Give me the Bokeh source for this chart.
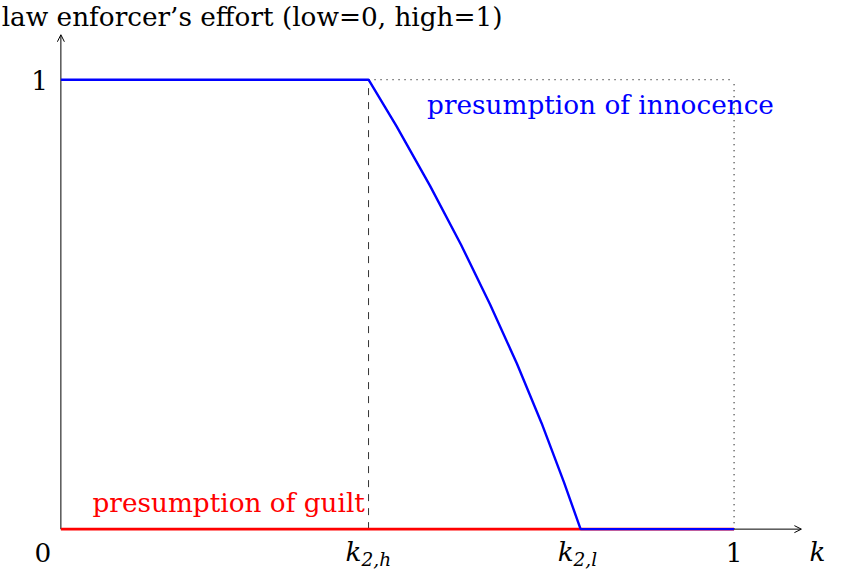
from bokeh.plotting import figure
from bokeh.models import Range1d, Arrow, OpenHead
from bokeh.core.properties import value
from bokeh.embed import file_html
from bokeh.resources import INLINE

# ---- data ----
k2h = 0.457
k2l = 0.772
# presumption of innocence: effort as a function of k
innocence_k = [0.0, k2h, 0.4985, 0.5482, 0.5946, 0.6376, 0.6775, 0.7141, 0.7475, k2l, 1.0]
innocence_e = [1.0, 1.0, 0.8965, 0.7643, 0.6322, 0.5, 0.3678, 0.2357, 0.1035, 0.0, 0.0]
# presumption of guilt: effort always low
guilt_k = [0.0, 1.0]
guilt_e = [0.0, 0.0]
x_tick_values = [0.0, 1.0]
x_tick_labels = ["0", "1"]
k_tick_values = [k2h, k2l]
k_tick_subs = ["2,h", "2,l"]
y_tick_values = [1.0]
y_tick_labels = ["1"]
axis_end = 1.1

FONT = "DejaVu Serif"
FS = "26.3px"
SUB_FS = "18.5px"
BL = -10   # baseline correction (px) for the main font
BLS = -7   # baseline correction (px) for subscripts

W, H = 832, 572
p = figure(width=W, height=H, output_backend="svg", toolbar_location=None,
           x_range=Range1d(-0.0897, 1.1462), y_range=Range1d(-0.0965, 1.1762),
           x_axis_location=None, y_axis_location=None, min_border=0)
p.grid.visible = False
p.outline_line_color = None
p.background_fill_color = "white"
p.border_fill_color = "white"

# guide lines
p.line([k2h, k2h], [0, 1], line_color="#333333", line_width=1, line_dash="7 7")
p.line([k2h, 1.0], [1, 1], line_color="#222222", line_width=1.3, line_dash="1 5")
p.line([1.0, 1.0], [0, 1], line_color="#222222", line_width=1.3, line_dash="1 5")

# axes
p.add_layout(Arrow(end=OpenHead(size=7, line_width=1, line_color="black"),
                   x_start=0, y_start=0, x_end=axis_end, y_end=0,
                   line_color="black", line_width=1, level="underlay"))
p.add_layout(Arrow(end=OpenHead(size=7, line_width=1, line_color="black"),
                   x_start=0, y_start=0, x_end=0, y_end=axis_end,
                   line_color="black", line_width=1, level="underlay"))

# series
p.line(guilt_k, guilt_e, line_color="red", line_width=2.6)
p.line(innocence_k, innocence_e, line_color="blue", line_width=2.4)

# tick labels
p.text(x=[x_tick_values[0]], y=[0], text=[x_tick_labels[0]], x_offset=-18, y_offset=33 + BL,
       text_align="center", text_baseline="alphabetic",
       text_font=value(FONT), text_font_size=FS, text_color="black")
p.text(x=[x_tick_values[1]], y=[0], text=[x_tick_labels[1]], x_offset=0, y_offset=33 + BL,
       text_align="center", text_baseline="alphabetic",
       text_font=value(FONT), text_font_size=FS, text_color="black")
p.text(x=k_tick_values, y=[0, 0], text=["k", "k"], x_offset=-7, y_offset=33 + BL,
       text_align="right", text_baseline="alphabetic", text_font_style="italic",
       text_font=value(FONT), text_font_size=FS, text_color="black")
p.text(x=k_tick_values, y=[0, 0], text=k_tick_subs, x_offset=-7, y_offset=37 + BLS,
       text_align="left", text_baseline="alphabetic", text_font_style="italic",
       text_font=value(FONT), text_font_size=SUB_FS, text_color="black")
p.text(x=[0], y=y_tick_values, text=y_tick_labels, x_offset=-13, y_offset=11 + BL,
       text_align="right", text_baseline="alphabetic",
       text_font=value(FONT), text_font_size=FS, text_color="black")

# axis labels
p.text(x=[axis_end], y=[0], text=["k"], x_offset=8, y_offset=33 + BL,
       text_align="left", text_baseline="alphabetic", text_font_style="italic",
       text_font=value(FONT), text_font_size=FS, text_color="black")
p.text(x=[-0.088], y=[1.1167], text=["law enforcer\u2019s effort (low=0, high=1)"],
       y_offset=BL, text_align="left", text_baseline="alphabetic",
       text_font=value(FONT), text_font_size=FS, text_color="black")

# series labels
p.text(x=[0.544], y=[0.925], text=["presumption of innocence"], y_offset=BL + 2,
       text_align="left", text_baseline="alphabetic",
       text_font=value(FONT), text_font_size=FS, text_color="blue")
p.text(x=[0.047], y=[0.0352], text=["presumption of guilt"], y_offset=BL,
       text_align="left", text_baseline="alphabetic",
       text_font=value(FONT), text_font_size=FS, text_color="red")

open("out.html", "w").write(file_html(p, INLINE))
